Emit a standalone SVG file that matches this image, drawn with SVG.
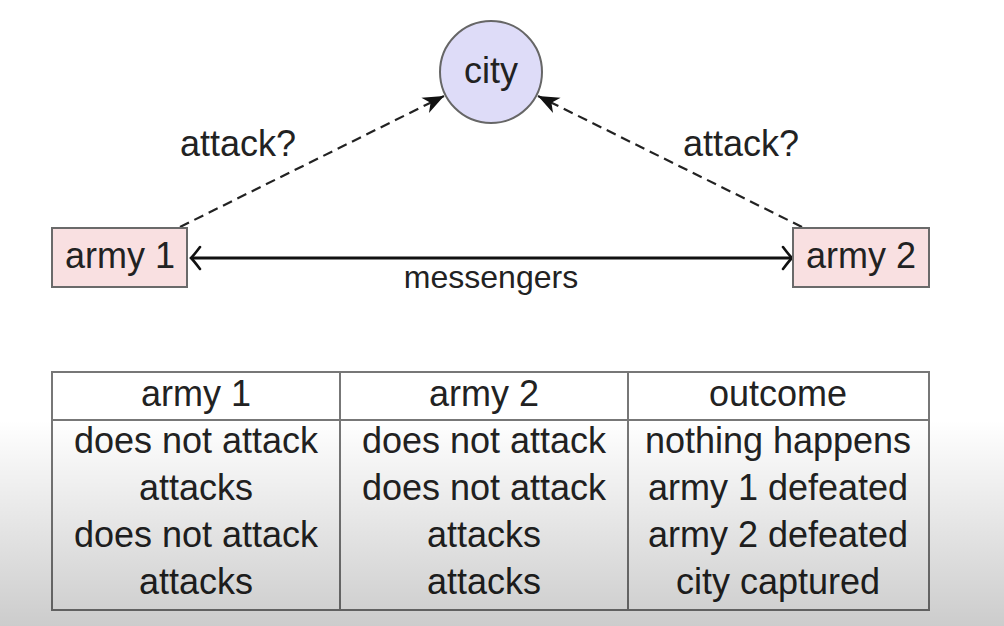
<svg xmlns="http://www.w3.org/2000/svg" width="1004" height="626" viewBox="0 0 1004 626">
<style>
text{font-family:"Liberation Sans",Arial,sans-serif;font-size:36px;fill:#222;text-anchor:middle}
.box{fill:#f9e0e1;stroke:#6a6a6a;stroke-width:2}
.dash{fill:none;stroke:#222;stroke-width:2.2;stroke-dasharray:10 6}
.solid{fill:none;stroke:#111;stroke-width:2.8}
.tbl{fill:none;stroke:#777;stroke-width:2}
</style>
<defs>
<marker id="open" markerUnits="userSpaceOnUse" markerWidth="30" markerHeight="30" viewBox="-20 -15 30 30" refX="0" refY="0" orient="auto-start-reverse">
<path d="M-9,-11 Q-3,-3 0,0 Q-3,3 -9,11" fill="none" stroke="#111" stroke-width="2.6" stroke-linecap="round"/>
</marker>
<marker id="stealth" markerUnits="userSpaceOnUse" markerWidth="30" markerHeight="30" viewBox="-25 -15 30 30" refX="0" refY="0" orient="auto">
<path d="M0,0 L-21,-8.5 L-15,0 L-21,8.5 Z" fill="#111"/>
</marker>
<linearGradient id="shade" x1="0" y1="0" x2="0" y2="1">
<stop offset="0" stop-color="#000" stop-opacity="0"/>
<stop offset="1" stop-color="#000" stop-opacity="0.2"/>
</linearGradient>
</defs>
<rect width="1004" height="626" fill="#fff"/>
<g id="connectors">
<line class="dash" x1="180" y1="227" x2="444" y2="96" marker-end="url(#stealth)"/>
<line class="dash" x1="802" y1="227" x2="538" y2="96" marker-end="url(#stealth)"/>
<line class="solid" x1="191" y1="258" x2="792" y2="258" marker-start="url(#open)" marker-end="url(#open)"/>
<text x="238" y="156">attack?</text>
<text x="741" y="156">attack?</text>
<text x="491" y="288" style="font-size:32px">messengers</text>
</g>
<g id="city">
<circle cx="491" cy="72" r="51" fill="#dedcf8" stroke="#666" stroke-width="2"/>
<text x="491" y="83">city</text>
</g>
<g id="army1">
<rect class="box" x="52" y="228" width="135" height="59"/>
<text x="120" y="268">army 1</text>
</g>
<g id="army2">
<rect class="box" x="793" y="228" width="136" height="59"/>
<text x="861" y="268">army 2</text>
</g>
<g id="table">
<rect class="tbl" x="52" y="372" width="877" height="238"/>
<line class="tbl" x1="52" y1="420" x2="929" y2="420"/>
<line class="tbl" x1="340" y1="372" x2="340" y2="610"/>
<line class="tbl" x1="628" y1="372" x2="628" y2="610"/>
<text x="196" y="406">army 1</text>
<text x="484" y="406">army 2</text>
<text x="778" y="406">outcome</text>
<text x="196" y="453">does not attack</text>
<text x="484" y="453">does not attack</text>
<text x="778" y="453">nothing happens</text>
<text x="196" y="500">attacks</text>
<text x="484" y="500">does not attack</text>
<text x="778" y="500">army 1 defeated</text>
<text x="196" y="547">does not attack</text>
<text x="484" y="547">attacks</text>
<text x="778" y="547">army 2 defeated</text>
<text x="196" y="594">attacks</text>
<text x="484" y="594">attacks</text>
<text x="778" y="594">city captured</text>
</g>
<rect x="0" y="420" width="1004" height="206" fill="url(#shade)"/>
</svg>
